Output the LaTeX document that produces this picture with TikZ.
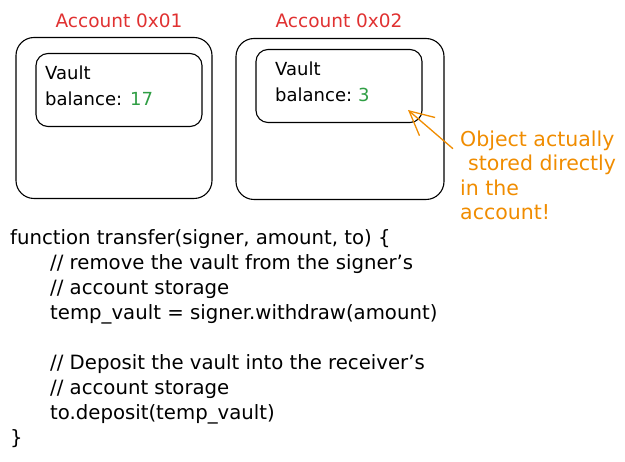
\documentclass[tikz,border=0pt]{standalone}
\usepackage{fontspec}
\setmainfont{DejaVu Sans}
\usetikzlibrary{arrows.meta,positioning}
\definecolor{XRed}{HTML}{E03131}
\definecolor{XGreen}{HTML}{2F9E44}
\definecolor{XOrange}{HTML}{F08C00}

\begin{document}
\begin{tikzpicture}[
  x=1pt,y=-1pt,
  >={Straight Barb[length=24pt,width=24pt]},
  every node/.style={inner sep=0pt},
  account/.style={draw,line width=1.1pt,rounded corners=18pt,
    minimum width=196pt,minimum height=161pt},
  vault/.style={draw,line width=1.1pt,rounded corners=12pt,
    minimum width=166pt,minimum height=73pt},
  title/.style={text=XRed,font=\fontsize{18.5}{22}\selectfont},
  field/.style={anchor=base west,align=left,
    font=\fontsize{18}{26}\selectfont},
  code/.style={anchor=base west,align=left,
    font=\fontsize{19.7}{25}\selectfont},
  remark/.style={anchor=base west,align=left,text=XOrange,
    font=\fontsize{20.5}{24.5}\selectfont}
]
  \useasboundingbox (0,0) rectangle (625,462);

  % the two accounts
  \node[account] (acct1) at (114,118) {};
  \node[account,minimum width=208pt] (acct2) at (340,119) {};
  \node[title,anchor=base] (title1) at (119,28) {Account 0x01};
  \node[title,anchor=base] (title2) at (339,28) {Account 0x02};

  % vaults stored in them (base = last line)
  \node[vault] (vault1) at (119,90) {};
  \node[vault] (vault2) at (339,86) {};
  \node[field] (fields1) at (45,106)
    {Vault\\balance:\hspace{8pt}\textcolor{XGreen}{17}};
  \node[field] (fields2) at (275,102)
    {Vault\\balance:\hspace{6pt}\textcolor{XGreen}{3}};

  % annotation
  \node[remark] (note) at (460,220)
    {Object actually\\\hspace*{8pt}stored directly\\in the\\account!};
  \coordinate (tail) at ([xshift=-7pt,yshift=-18pt]note.north west);
  \coordinate (tip) at (408,110);
  \draw[->,XOrange,line width=1.3pt] (tail) -- (tip);

  % transfer code
  \node[code] (transfer) at (10,445)
    {function transfer(signer, amount, to) \{\\
     \hspace*{40pt}// remove the vault from the signer's\\
     \hspace*{40pt}// account storage\\
     \hspace*{40pt}temp\_vault = signer.withdraw(amount)\\[25pt]
     \hspace*{40pt}// Deposit the vault into the receiver's\\
     \hspace*{40pt}// account storage\\
     \hspace*{40pt}to.deposit(temp\_vault)\\
     \}};
\end{tikzpicture}
\end{document}
